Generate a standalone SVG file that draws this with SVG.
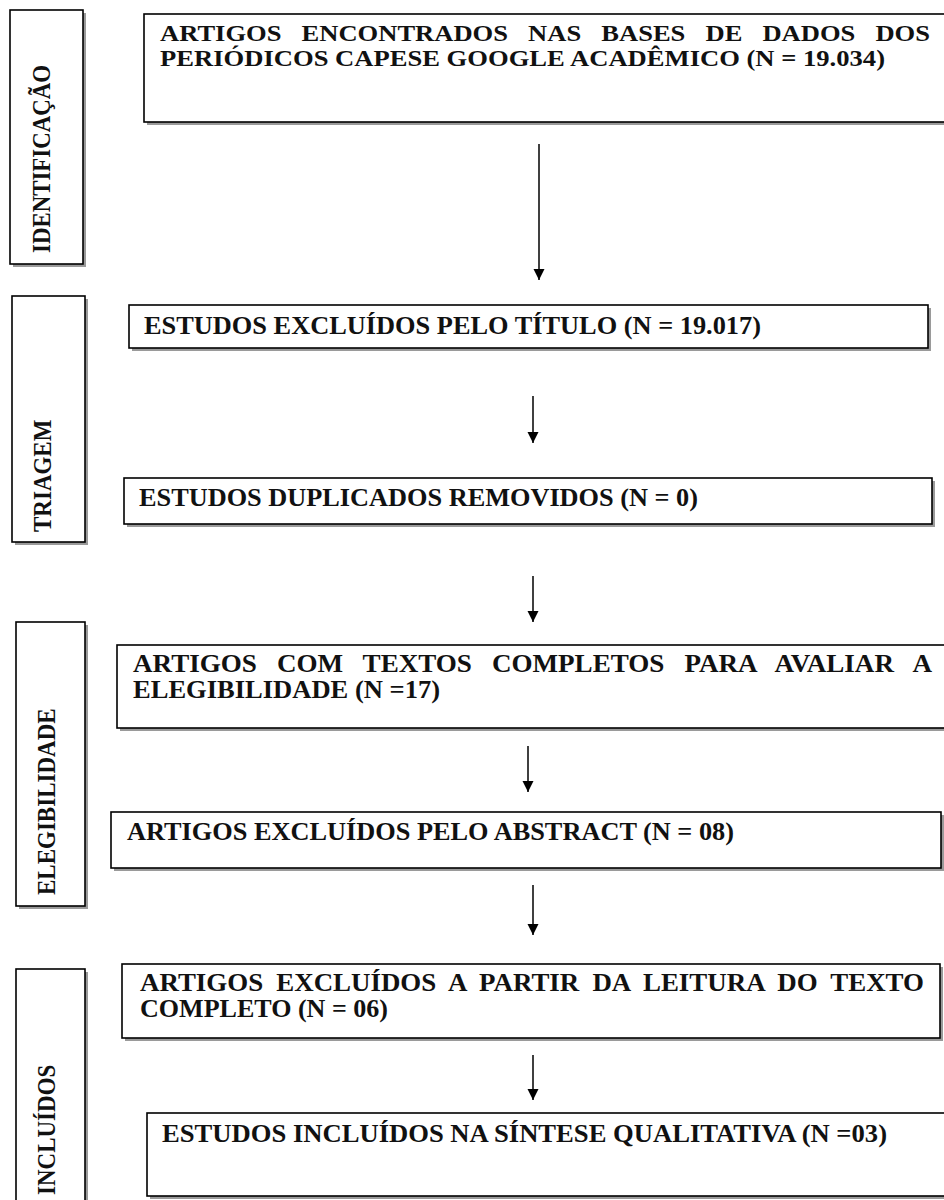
<svg xmlns="http://www.w3.org/2000/svg" width="944" height="1200" viewBox="0 0 944 1200">
<style>
.box{fill:#fff;stroke:#000;stroke-width:1.6}
.sh{fill:#9a9a9a}
.t{font-family:"Liberation Serif","Times New Roman",serif;font-weight:bold;font-size:25px;fill:#111}
.t2{font-size:24px}
.lbl{font-family:"Liberation Serif","Times New Roman",serif;font-weight:bold;font-size:23px;fill:#111}
.arrow{stroke:#000;stroke-width:1.5;fill:none;marker-end:url(#ah)}
</style>
<defs>
<marker id="ah" markerUnits="userSpaceOnUse" markerWidth="12" markerHeight="12" refX="11" refY="6" orient="auto">
<path d="M0,0.5 L11,6 L0,11.5 z" fill="#000"/>
</marker>
</defs>
<rect width="944" height="1200" fill="#fff"/>

<g id="label-identificacao">
<rect class="sh" x="13" y="13" width="73" height="254"/>
<rect class="box" x="10" y="10" width="73" height="254"/>
<text class="lbl" transform="translate(50,253) scale(1.12,1) rotate(-90)" textLength="188" lengthAdjust="spacingAndGlyphs">IDENTIFICAÇÃO</text>
</g>
<g id="label-triagem">
<rect class="sh" x="15" y="299" width="73" height="246"/>
<rect class="box" x="12" y="296" width="73" height="246"/>
<text class="lbl" transform="translate(51,532) scale(1.12,1) rotate(-90)">TRIAGEM</text>
</g>
<g id="label-elegibilidade">
<rect class="sh" x="19" y="625" width="69" height="284"/>
<rect class="box" x="16" y="622" width="69" height="284"/>
<text class="lbl" transform="translate(55,895) scale(1.14,1) rotate(-90)">ELEGIBILIDADE</text>
</g>
<g id="label-incluidos">
<rect class="sh" x="19" y="972" width="69" height="250"/>
<rect class="box" x="16" y="969" width="69" height="250"/>
<text class="lbl" transform="translate(55,1195) scale(1.14,1) rotate(-90)">INCLUÍDOS</text>
</g>

<g id="box-identificados">
<rect class="sh" x="147" y="17" width="830" height="108"/>
<rect class="box" x="144" y="14" width="830" height="108"/>
<text class="t t2" x="160" y="41" word-spacing="12.2" textLength="770" lengthAdjust="spacingAndGlyphs">ARTIGOS ENCONTRADOS NAS BASES DE DADOS DOS</text>
<text class="t t2" x="160" y="66" textLength="725" lengthAdjust="spacingAndGlyphs">PERIÓDICOS CAPESE GOOGLE ACADÊMICO (N = 19.034)</text>
</g>
<g id="box-titulo">
<rect class="sh" x="132" y="308" width="799" height="43"/>
<rect class="box" x="129" y="305" width="799" height="43"/>
<text class="t" x="144" y="334" textLength="617" lengthAdjust="spacingAndGlyphs">ESTUDOS EXCLUÍDOS PELO TÍTULO (N = 19.017)</text>
</g>
<g id="box-duplicados">
<rect class="sh" x="127" y="481" width="808" height="46"/>
<rect class="box" x="124" y="478" width="808" height="46"/>
<text class="t" x="139" y="506" textLength="559" lengthAdjust="spacingAndGlyphs">ESTUDOS DUPLICADOS REMOVIDOS (N = 0)</text>
</g>
<g id="box-elegibilidade">
<rect class="sh" x="120" y="648" width="850" height="83"/>
<rect class="box" x="117" y="645" width="850" height="83"/>
<text class="t" x="133" y="672" word-spacing="12.2" textLength="799" lengthAdjust="spacingAndGlyphs">ARTIGOS COM TEXTOS COMPLETOS PARA AVALIAR A</text>
<text class="t" x="133" y="698" textLength="307" lengthAdjust="spacingAndGlyphs">ELEGIBILIDADE (N =17)</text>
</g>
<g id="box-abstract">
<rect class="sh" x="114" y="815" width="830" height="56"/>
<rect class="box" x="111" y="812" width="830" height="56"/>
<text class="t" x="127" y="840" textLength="607" lengthAdjust="spacingAndGlyphs">ARTIGOS EXCLUÍDOS PELO ABSTRACT (N = 08)</text>
</g>
<g id="box-texto-completo">
<rect class="sh" x="125" y="967" width="818" height="74"/>
<rect class="box" x="122" y="964" width="818" height="74"/>
<text class="t" x="140" y="991" word-spacing="6" textLength="784" lengthAdjust="spacingAndGlyphs">ARTIGOS EXCLUÍDOS A PARTIR DA LEITURA DO TEXTO</text>
<text class="t" x="140" y="1017" textLength="248" lengthAdjust="spacingAndGlyphs">COMPLETO (N = 06)</text>
</g>
<g id="box-incluidos">
<rect class="sh" x="150" y="1116" width="820" height="83"/>
<rect class="box" x="147" y="1113" width="820" height="83"/>
<text class="t" x="162" y="1142" textLength="725" lengthAdjust="spacingAndGlyphs">ESTUDOS INCLUÍDOS NA SÍNTESE QUALITATIVA (N =03)</text>
</g>

<g id="connectors">
<line class="arrow" x1="539" y1="144" x2="539" y2="280"/>
<line class="arrow" x1="533" y1="396" x2="533" y2="443"/>
<line class="arrow" x1="533" y1="576" x2="533" y2="622"/>
<line class="arrow" x1="528" y1="746" x2="528" y2="792"/>
<line class="arrow" x1="533" y1="885" x2="533" y2="935"/>
<line class="arrow" x1="533" y1="1055" x2="533" y2="1100"/>
</g>
</svg>
